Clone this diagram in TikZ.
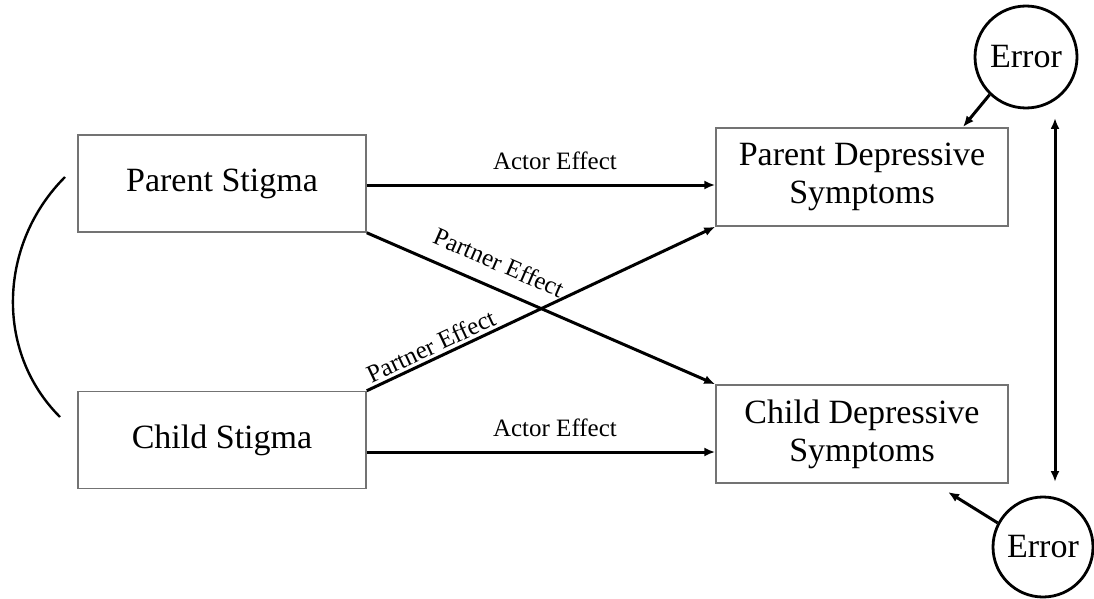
\documentclass[tikz,border=0pt]{standalone}
\usepackage{fontspec}
\setmainfont{Liberation Serif}
\usetikzlibrary{arrows.meta}

\begin{document}
\begin{tikzpicture}[x=1pt, y=-1pt]
\tikzstyle{arrow} 	= [line width = 3pt, color = black, -{Latex[length=11pt, width=9pt]}] % define standard arrow
\tikzstyle{darrow} 	= [line width = 3pt, color = black, {Latex[length=11pt, width=9pt]}-{Latex[length=11pt, width=9pt]}] % double headed arrow
\tikzstyle{block} 	= [draw = black!55, line width = 1.5pt, rectangle, minimum height = 97pt, minimum width = 288pt, align = center, font = \fontsize{34}{38}\selectfont] % define block
\tikzstyle{err}		= [draw, line width = 2.8pt, shape = circle, inner sep = 0pt, minimum size = 102pt, font = \fontsize{34}{38}\selectfont] % define error term
\tikzstyle{lbl}		= [font = \fontsize{25}{28}\selectfont] % path labels

\useasboundingbox (0,0) rectangle (1094,599);

% define stigma blocks and outcome blocks
\node(PS)[block] at (222,183.5){Parent Stigma};
\node(CS)[block] at (222,440){Child Stigma};
\node(PD)[block, minimum width = 292pt, minimum height = 98pt] at (862,177){Parent Depressive\\Symptoms};
\node(CD)[block, minimum width = 292pt, minimum height = 98pt] at (862,434){Child Depressive\\Symptoms};

% error terms
\node(E1)[err] at (1026,57){Error};
\node(E2)[err, minimum size = 100pt] at (1043,547){Error};

% actor effects
\coordinate (aTop) at ([yshift=-1.5pt]PS.east);
\coordinate (aBot) at ([yshift=-12pt]CS.east);
\draw[arrow] (aTop) -- (aTop -| PD.west) node[lbl, pos = 0.54, above = 10pt]{Actor Effect};
\draw[arrow] (aBot) -- (aBot -| CD.west) node[lbl, pos = 0.54, above = 10pt]{Actor Effect};

% partner effects
\draw[arrow] (PS.south east) -- (CD.north west) node[lbl, sloped, pos = 0.35, above, inner ysep = 15pt]{Partner Effect};
\draw[arrow] (CS.north east) -- (PD.south west) node[lbl, sloped, pos = 0.2, above, inner ysep = 3pt]{Partner Effect};

% error arrows and covariance
\coordinate (e1Tip) at (963,127);
\coordinate (e2Tip) at (948,492);
\draw[arrow] (E1.226) -- (e1Tip);
\draw[arrow] (E2.152) -- (e2Tip);
\coordinate (dTop) at (1055,118);
\coordinate (dBot) at (1055,482);
\draw[darrow] (dTop) -- (dBot);

% correlation between stigma
\coordinate (cTop) at (65,177);
\coordinate (cBot) at (60,417);
\draw[line width = 2.4pt] (cTop) .. controls (-1,243) and (-6,351) .. (cBot);
\end{tikzpicture}
\end{document}
